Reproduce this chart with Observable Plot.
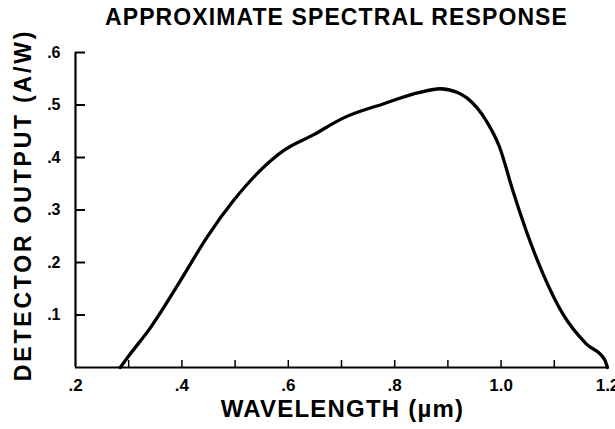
<!DOCTYPE html>
<html><head><meta charset="utf-8">
<script src="https://cdn.jsdelivr.net/npm/d3@7"></script>
<script src="https://cdn.jsdelivr.net/npm/@observablehq/plot@0.6"></script>
<style>
body{margin:0;background:#fff;font-family:"Liberation Sans",Arial,sans-serif;overflow:hidden;}
#title{font-weight:bold;font-size:23px;height:34px;line-height:34px;width:615px;padding-left:58px;box-sizing:border-box;text-align:center;color:#000;letter-spacing:1.1px;white-space:nowrap;}
text[aria-label="ylabel"]{letter-spacing:2.8px;}
text[aria-label="xlabel"]{letter-spacing:1.2px;}
</style></head><body>
<div id="title">APPROXIMATE SPECTRAL RESPONSE</div>
<div id="chart"></div>
<script>
const wavelength = [0.284, 0.30, 0.341, 0.397, 0.447, 0.497, 0.547, 0.591, 0.647, 0.703, 0.778, 0.847, 0.885, 0.918, 0.935, 0.972, 0.997, 1.022, 1.047, 1.079, 1.116, 1.16, 1.194, 1.20];
const output     = [0.0,   0.022, 0.076, 0.165, 0.248, 0.318, 0.375, 0.413, 0.443, 0.475, 0.502, 0.524, 0.531, 0.524, 0.514, 0.470, 0.420, 0.337, 0.261, 0.178, 0.102, 0.045, 0.016, 0.0];
const xMajorTicks = [0.2, 0.4, 0.6, 0.8, 1.0, 1.2];
const xMinorTicks = [0.3, 0.4, 0.5, 0.6, 0.7, 0.8, 0.9, 1.0, 1.1];
const yTicks = [0.1, 0.2, 0.3, 0.4, 0.5, 0.6];
const xLabel = "WAVELENGTH (µm)";
const yLabel = "DETECTOR OUTPUT (A/W)";

const data = wavelength.map((w, i) => ({w, v: output[i]}));
const fmt = d => d < 1 ? "." + Math.round(d * 10) : d.toFixed(1);

const W = 615, H = 395, mT = 18, mL = 75, mR = 8, mB = 62;
const plot = Plot.plot({
  width: W,
  height: H,
  marginTop: mT,
  marginLeft: mL,
  marginRight: mR,
  marginBottom: mB,
  style: {fontFamily: "Liberation Sans, Arial, sans-serif", fontWeight: "bold", color: "#000", background: "#fff", overflow: "visible"},
  x: {domain: [0.2, 1.2]},
  y: {domain: [0, 0.6]},
  marks: [
    Plot.axisY(yTicks, {tickSize: 0, tickPadding: 15, tickFormat: fmt, fontSize: 16, fontWeight: "bold", label: null}),
    Plot.tickY(yTicks, {y: d => d, x: null, insetRight: (W - mL - mR) - 10, stroke: "#000", strokeWidth: 2}),
    Plot.axisX(xMajorTicks, {tickSize: 0, tickPadding: 11, tickFormat: fmt, fontSize: 17, fontWeight: "bold", label: null}),
    Plot.tickX(xMinorTicks, {x: d => d, y: null, insetTop: (H - mT - mB) - 7, stroke: "#000", strokeWidth: 1.5}),
    Plot.ruleX([0.2], {stroke: "#000", strokeWidth: 2.2}),
    Plot.ruleY([0], {stroke: "#000", strokeWidth: 2.2}),
    Plot.line(data, {x: "w", y: "v", curve: "monotone-x", stroke: "#000", strokeWidth: 3.3}),
    Plot.text([xLabel], {ariaLabel: () => "xlabel", frameAnchor: "bottom", dy: 49, dx: 1, fontSize: 24, fontWeight: "bold", fill: "#000"}),
    Plot.text([yLabel], {ariaLabel: () => "ylabel", frameAnchor: "left", textAnchor: "middle", dx: -52, dy: -5, rotate: -90, fontSize: 23, fontWeight: "bold", fill: "#000"})
  ]
});
document.getElementById("chart").appendChild(plot);
</script>
</body></html>
